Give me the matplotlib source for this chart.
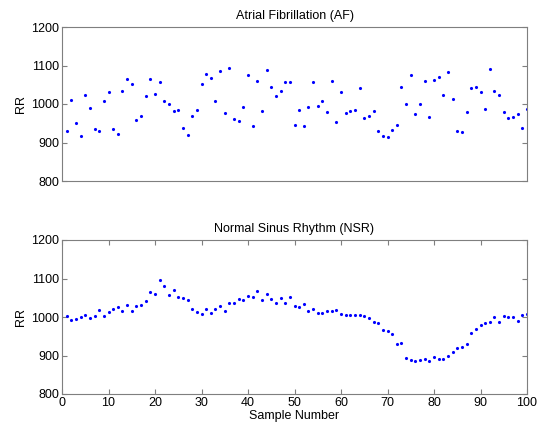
import matplotlib
matplotlib.use("Agg")
import matplotlib.pyplot as plt
import numpy as np

plt.rcParams['font.family'] = ['Liberation Sans', 'DejaVu Sans']

sample = list(range(1, 101))

af_rr = [930, 1010, 951, 918, 1023, 990, 936, 930, 1007, 1030,
         936, 922, 1033, 1065, 1053, 958, 968, 1021, 1064, 1027,
         1058, 1007, 1001, 982, 985, 937, 919, 970, 985, 1052,
         1078, 1068, 1009, 1087, 977, 1094, 961, 957, 992, 1076,
         942, 1059, 982, 1088, 1045, 1021, 1035, 1058, 1058, 945,
         984, 943, 992, 1058, 994, 1008, 978, 1061, 953, 1031,
         976, 982, 985, 1042, 964, 969, 981, 930, 918, 913,
         932, 946, 1044, 999, 1075, 973, 1001, 1059, 967, 1062,
         1071, 1023, 1082, 1012, 929, 926, 978, 1042, 1044, 1031,
         988, 1092, 1033, 1023, 978, 964, 967, 975, 937, 988]

nsr_rr = [1003, 992, 995, 1000, 1005, 997, 1003, 1017, 1003, 1012,
          1020, 1025, 1015, 1031, 1015, 1028, 1031, 1042, 1064, 1061,
          1096, 1081, 1057, 1071, 1052, 1050, 1044, 1020, 1013, 1009,
          1021, 1010, 1021, 1029, 1016, 1036, 1037, 1046, 1043, 1055,
          1052, 1067, 1044, 1060, 1048, 1036, 1050, 1036, 1053, 1029,
          1027, 1035, 1015, 1021, 1010, 1010, 1015, 1016, 1018, 1009,
          1005, 1005, 1004, 1004, 1003, 997, 987, 985, 966, 963,
          957, 929, 933, 894, 888, 887, 888, 890, 887, 895,
          892, 891, 899, 908, 919, 923, 929, 958, 970, 978,
          984, 986, 999, 987, 1003, 1001, 1000, 989, 1004, 1008]

titles = ["Atrial Fibrillation (AF)", "Normal Sinus Rhythm (NSR)"]
yticks = [800, 900, 1000, 1100, 1200]
xticks = [0, 10, 20, 30, 40, 50, 60, 70, 80, 90, 100]

W, H = 542, 425
fig = plt.figure(figsize=(W / 100, H / 100), dpi=100)
ax1 = fig.add_axes([62 / W, 1 - 181 / H, 465 / W, 154 / H])
ax2 = fig.add_axes([62 / W, 1 - 394 / H, 465 / W, 154 / H])

edge = '#7f7f7f'
for ax, data, title in [(ax1, af_rr, titles[0]), (ax2, nsr_rr, titles[1])]:
    ax.plot(sample, data, linestyle='none', marker='.', markersize=2.5,
            color='#0000ff')
    ax.set_xlim(0, 100)
    ax.set_ylim(800, 1200)
    ax.set_yticks(yticks)
    ax.set_title(title, fontsize=9, pad=6)
    ax.set_ylabel('RR', fontsize=9, labelpad=3)
    for s in ax.spines.values():
        s.set_color(edge)
        s.set_linewidth(0.8)
    ax.tick_params(direction='in', length=3.5, width=0.8, color=edge,
                   labelsize=9, labelcolor='black', top=True, right=True,
                   pad=2)

ax1.set_xticks([])
ax2.set_xticks(xticks)
ax2.set_xlabel('Sample Number', fontsize=9, labelpad=1)

fig.savefig('out.png', dpi=100)
